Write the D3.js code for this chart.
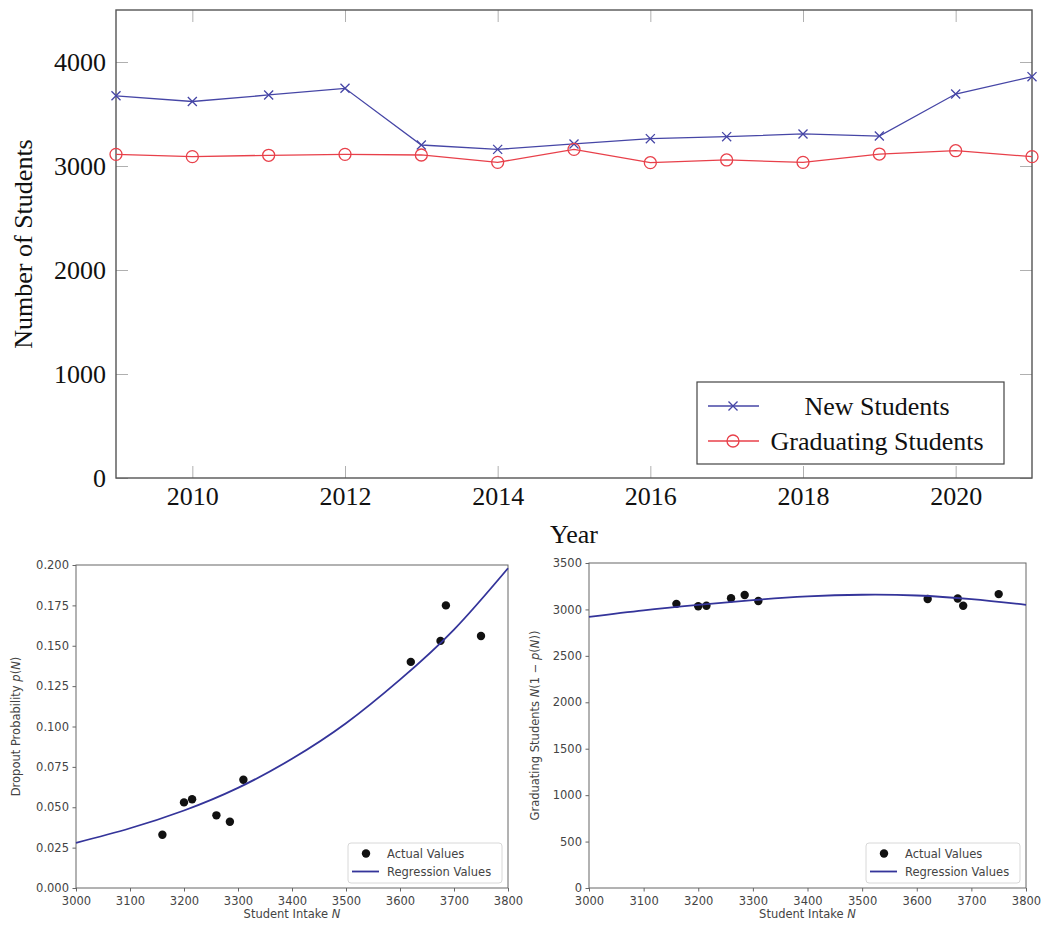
<!DOCTYPE html>
<html>
<head>
<meta charset="utf-8">
<script src="https://cdn.jsdelivr.net/npm/d3@7"></script>
<style>
  body { margin: 0; background: #fff; }
</style>
</head>
<body>
<div id="chart"></div>
<script>
var width = 1043,
    height = 926;

// top chart data
var years = [2009, 2010, 2011, 2012, 2013, 2014, 2015, 2016, 2017, 2018, 2019, 2020, 2021];
var newStudents = [3675, 3620, 3683, 3747, 3202, 3160, 3212, 3263, 3282, 3308, 3288, 3692, 3859];
var gradStudents = [3112, 3090, 3103, 3112, 3106, 3035, 3160, 3032, 3058, 3035, 3115, 3147, 3090];

// bottom charts data
var intake = [3160, 3200, 3215, 3260, 3285, 3310, 3620, 3675, 3685, 3750];
var dropout = [0.033, 0.053, 0.055, 0.045, 0.041, 0.067, 0.140, 0.153, 0.175, 0.156];
var graduates = [3060, 3035, 3040, 3120, 3155, 3090, 3112, 3118, 3040, 3165];

var regN = [3000, 3100, 3200, 3300, 3400, 3500, 3600, 3700, 3800];
var regDropout = [0.028, 0.037, 0.048, 0.062, 0.080, 0.102, 0.129, 0.160, 0.198];
var regGraduates = [2920, 2990, 3048, 3100, 3140, 3158, 3150, 3110, 3050];

var yearTicks = [2010, 2012, 2014, 2016, 2018, 2020];
var countTicks = [0, 1000, 2000, 3000, 4000];

var svg = d3.select("#chart").append("svg")
    .attr("width", width)
    .attr("height", height);

/* ---------- top chart (pgfplots look) ---------- */
var serif = "'Liberation Serif', 'Times New Roman', serif";
var mainBox = {left: 116, right: 1032, top: 10, bottom: 478};

var x = d3.scaleLinear().domain([2009, 2021]).range([mainBox.left, mainBox.right]);
var y = d3.scaleLinear().domain([0, 4500]).range([mainBox.bottom, mainBox.top]);

var g = svg.append("g");

function styleInner(sel) {
  sel.select(".domain").remove();
  sel.selectAll(".tick line").attr("stroke", "#b0b0b0").attr("stroke-width", 1);
  sel.selectAll(".tick text")
    .attr("fill", "#111")
    .style("font-family", serif)
    .style("font-size", "26px");
}

g.append("g")
    .attr("transform", "translate(0," + mainBox.bottom + ")")
    .call(d3.axisBottom(x).tickValues(yearTicks).tickSize(-12).tickPadding(9).tickFormat(d3.format("d")))
    .call(styleInner);
g.append("g")
    .attr("transform", "translate(0," + mainBox.top + ")")
    .call(d3.axisTop(x).tickValues(yearTicks).tickSize(-12).tickFormat(""))
    .call(styleInner);
g.append("g")
    .attr("transform", "translate(" + mainBox.left + ",0)")
    .call(d3.axisLeft(y).tickValues(countTicks).tickSize(-12).tickPadding(10).tickFormat(d3.format("d")))
    .call(styleInner);
g.append("g")
    .attr("transform", "translate(" + mainBox.right + ",0)")
    .call(d3.axisRight(y).tickValues(countTicks).tickSize(-12).tickFormat(""))
    .call(styleInner);

g.append("rect")
    .attr("x", mainBox.left)
    .attr("y", mainBox.top)
    .attr("width", mainBox.right - mainBox.left)
    .attr("height", mainBox.bottom - mainBox.top)
    .attr("fill", "none")
    .attr("stroke", "#555")
    .attr("stroke-width", 1.4);

var blue = "#4646a6",
    red = "#e8404a";

var line = d3.line()
    .x(function(d, i) { return x(years[i]); })
    .y(function(d) { return y(d); });

g.append("path")
    .datum(newStudents)
    .attr("d", line)
    .attr("fill", "none")
    .attr("stroke", blue)
    .attr("stroke-width", 1.3);

g.append("path")
    .datum(gradStudents)
    .attr("d", line)
    .attr("fill", "none")
    .attr("stroke", red)
    .attr("stroke-width", 1.3);

var cross = d3.symbol().type(d3.symbolTimes).size(55);

g.selectAll(".crossMark")
    .data(newStudents)
    .enter()
    .append("path")
    .attr("class", "crossMark")
    .attr("d", cross)
    .attr("transform", function(d, i) { return "translate(" + x(years[i]) + "," + y(d) + ")"; })
    .attr("fill", "none")
    .attr("stroke", blue)
    .attr("stroke-width", 1.3);

g.selectAll(".circleMark")
    .data(gradStudents)
    .enter()
    .append("circle")
    .attr("class", "circleMark")
    .attr("cx", function(d, i) { return x(years[i]); })
    .attr("cy", function(d) { return y(d); })
    .attr("r", 6)
    .attr("fill", "none")
    .attr("stroke", red)
    .attr("stroke-width", 1.3);

g.append("text")
    .attr("transform", "translate(32," + ((mainBox.top + mainBox.bottom) / 2) + ") rotate(-90)")
    .attr("text-anchor", "middle")
    .style("font-family", serif)
    .style("font-size", "26px")
    .attr("fill", "#111")
    .text("Number of Students");

g.append("text")
    .attr("x", (mainBox.left + mainBox.right) / 2)
    .attr("y", 543)
    .attr("text-anchor", "middle")
    .style("font-family", serif)
    .style("font-size", "26px")
    .attr("fill", "#111")
    .text("Year");

// legend
var leg = g.append("g").attr("transform", "translate(697,382)");
leg.append("rect")
    .attr("width", 307)
    .attr("height", 82)
    .attr("fill", "#fff")
    .attr("stroke", "#444")
    .attr("stroke-width", 1.2);

var legItems = [
  {label: "New Students", color: blue, mark: "x", y: 24},
  {label: "Graduating Students", color: red, mark: "o", y: 59}
];
legItems.forEach(function(it) {
  leg.append("line")
      .attr("x1", 11).attr("x2", 62)
      .attr("y1", it.y).attr("y2", it.y)
      .attr("stroke", it.color)
      .attr("stroke-width", 1.3);
  if (it.mark === "x") {
    leg.append("path")
        .attr("d", cross)
        .attr("transform", "translate(36," + it.y + ")")
        .attr("fill", "none")
        .attr("stroke", it.color)
        .attr("stroke-width", 1.3);
  } else {
    leg.append("circle")
        .attr("cx", 36).attr("cy", it.y).attr("r", 6)
        .attr("fill", "none")
        .attr("stroke", it.color)
        .attr("stroke-width", 1.3);
  }
  leg.append("text")
      .attr("x", 180)
      .attr("y", it.y)
      .attr("dy", "0.35em")
      .attr("text-anchor", "middle")
      .style("font-family", serif)
      .style("font-size", "26px")
      .attr("fill", "#111")
      .text(it.label);
});

/* ---------- bottom charts (matplotlib look) ---------- */
var sans = "'DejaVu Sans', sans-serif";
var regColor = "#34349a";

function mplAxes(sel) {
  sel.select(".domain").remove();
  sel.selectAll(".tick line").attr("stroke", "#555").attr("stroke-width", 0.9);
  sel.selectAll(".tick text")
    .attr("fill", "#444")
    .style("font-family", sans)
    .style("font-size", "11.5px");
}

function drawPanel(box, yDomain, yTicks, yFmt, yVals, regVals, yLabelParts, labelX) {
  var px = d3.scaleLinear().domain([3000, 3800]).range([box.left, box.right]);
  var py = d3.scaleLinear().domain(yDomain).range([box.bottom, box.top]);
  var p = svg.append("g");

  p.append("g")
      .attr("transform", "translate(0," + box.bottom + ")")
      .call(d3.axisBottom(px).tickValues(d3.range(3000, 3801, 100)).tickSize(3.5).tickPadding(5).tickFormat(d3.format("d")))
      .call(mplAxes);
  p.append("g")
      .attr("transform", "translate(" + box.left + ",0)")
      .call(d3.axisLeft(py).tickValues(yTicks).tickSize(3.5).tickPadding(3.5).tickFormat(yFmt))
      .call(mplAxes);

  p.append("rect")
      .attr("x", box.left)
      .attr("y", box.top)
      .attr("width", box.right - box.left)
      .attr("height", box.bottom - box.top)
      .attr("fill", "none")
      .attr("stroke", "#666")
      .attr("stroke-width", 1);

  p.selectAll(".dot")
      .data(yVals)
      .enter()
      .append("circle")
      .attr("class", "dot")
      .attr("cx", function(d, i) { return px(intake[i]); })
      .attr("cy", function(d) { return py(d); })
      .attr("r", 4.2)
      .attr("fill", "#111");

  p.append("path")
      .datum(regVals)
      .attr("d", d3.line()
        .curve(d3.curveNatural)
        .x(function(d, i) { return px(regN[i]); })
        .y(function(d) { return py(d); }))
      .attr("fill", "none")
      .attr("stroke", regColor)
      .attr("stroke-width", 1.8);

  var xl = p.append("text")
      .attr("x", (box.left + box.right) / 2)
      .attr("y", 918)
      .attr("text-anchor", "middle")
      .style("font-family", sans)
      .style("font-size", "11.5px")
      .attr("fill", "#444");
  xl.append("tspan").text("Student Intake ");
  xl.append("tspan").style("font-style", "italic").text("N");

  var yl = p.append("text")
      .attr("transform", "translate(" + labelX + "," + ((box.top + box.bottom) / 2) + ") rotate(-90)")
      .attr("text-anchor", "middle")
      .style("font-family", sans)
      .style("font-size", "11.5px")
      .attr("fill", "#444");
  yLabelParts.forEach(function(part) {
    var t = yl.append("tspan").text(part[0]);
    if (part[1]) t.style("font-style", "italic");
  });

  // legend
  var lg = p.append("g").attr("transform", "translate(" + (box.right - 160) + ",843)");
  lg.append("rect")
      .attr("width", 154)
      .attr("height", 40)
      .attr("rx", 3)
      .attr("fill", "#fff")
      .attr("fill-opacity", 0.8)
      .attr("stroke", "#d8d8d8")
      .attr("stroke-width", 1);
  lg.append("circle")
      .attr("cx", 18).attr("cy", 10.5).attr("r", 4.2)
      .attr("fill", "#111");
  lg.append("line")
      .attr("x1", 4).attr("x2", 31)
      .attr("y1", 28.5).attr("y2", 28.5)
      .attr("stroke", regColor)
      .attr("stroke-width", 1.8);
  lg.selectAll(".lt")
      .data(["Actual Values", "Regression Values"])
      .enter()
      .append("text")
      .attr("class", "lt")
      .attr("x", 39)
      .attr("y", function(d, i) { return 10.5 + i * 18; })
      .attr("dy", "0.35em")
      .style("font-family", sans)
      .style("font-size", "11.5px")
      .attr("fill", "#444")
      .text(function(d) { return d; });
}

drawPanel({left: 76, right: 508, top: 565, bottom: 888},
  [0, 0.2], d3.range(0, 0.2001, 0.025), d3.format(".3f"),
  dropout, regDropout,
  [["Dropout Probability "], ["p", true], ["("], ["N", true], [")"]], 20);

drawPanel({left: 589, right: 1026, top: 563, bottom: 888},
  [0, 3500], d3.range(0, 3501, 500), d3.format("d"),
  graduates, regGraduates,
  [["Graduating Students "], ["N", true], ["(1 \u2212 "], ["p", true], ["("], ["N", true], ["))"]], 539);
</script>
</body>
</html>
